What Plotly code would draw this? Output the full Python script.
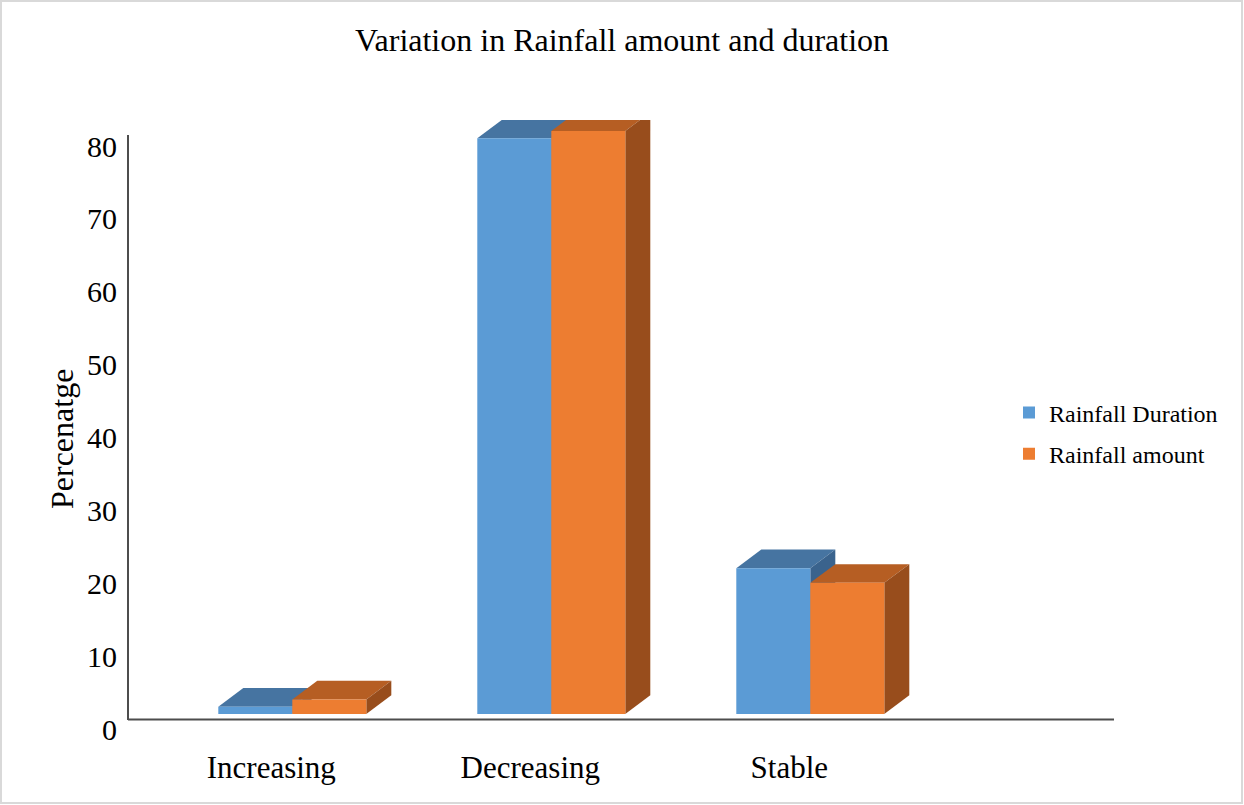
import plotly.graph_objects as go

# Survey responses: share of respondents (%) per perceived trend
categories = ["Increasing", "Decreasing", "Stable"]
rainfall_duration = [1, 79, 20]
rainfall_amount = [2, 80, 18]
y_ticks = [0, 10, 20, 30, 40, 50, 60, 70, 80]

# ---- page / plot-area geometry (pixels) ----
FIG_W, FIG_H = 1244, 805
L, R, T, B = 128, 1114, 120, 742
W, H = R - L, B - T

PX_PER_UNIT = 7.2875          # vertical pixels per percentage point
ZERO_LABEL_PX = 729           # where the "0" label sits
FLOOR_PX = 714                # front baseline of the 3-D boxes
CAT_PX = 259                  # pixels between category centres
FIRST_CAT_PX = 292.3          # centre of the first group
BAR_W = 74 / CAT_PX           # bar width in category units
DEPTH_X = 25 / CAT_PX         # 3-D depth offset, x (category units)
DEPTH_Y = 18.7 / PX_PER_UNIT  # 3-D depth offset, y (value units)
FLOOR = (ZERO_LABEL_PX - FLOOR_PX) / PX_PER_UNIT  # projected floor height
LABEL_SHIFT = -21 / CAT_PX    # category labels sit slightly left of group centre


def px_to_paper_x(p):
    return (p - L) / W


def px_to_paper_y(p):
    return (B - p) / H


y_range = [(ZERO_LABEL_PX - B) / PX_PER_UNIT, (ZERO_LABEL_PX - T) / PX_PER_UNIT]
x_range = [(L - FIRST_CAT_PX) / CAT_PX, (R - FIRST_CAT_PX) / CAT_PX]
x_pos = list(range(len(categories)))

series = [
    dict(name="Rainfall Duration", values=rainfall_duration, offset=-BAR_W,
         front="#5B9BD5", top="#4674A1", side="#3A638D"),
    dict(name="Rainfall amount", values=rainfall_amount, offset=0.0,
         front="#ED7D31", top="#B65E23", side="#984D1C"),
]

fig = go.Figure()
shapes = []


def poly(points, color):
    path = "M " + " L ".join(f"{x},{y}" for x, y in points) + " Z"
    return dict(type="path", path=path, xref="x", yref="y",
                fillcolor=color, line=dict(width=0), layer="below")


for s in series:
    # front faces: bars standing on the projected floor
    fig.add_trace(go.Bar(
        x=x_pos, y=s["values"], base=FLOOR, name=s["name"],
        width=BAR_W, offset=s["offset"],
        marker=dict(color=s["front"], line=dict(width=0)),
        legendgroup=s["name"],
        hoverinfo="skip",
    ))
    # top and right-hand faces of each box, derived from the same values
    for xi, v in zip(x_pos, s["values"]):
        x0 = xi + s["offset"]
        x1 = x0 + BAR_W
        y0, y1 = FLOOR, FLOOR + v
        shapes.append(poly([(x0, y1), (x1, y1), (x1 + DEPTH_X, y1 + DEPTH_Y),
                            (x0 + DEPTH_X, y1 + DEPTH_Y)], s["top"]))
        shapes.append(poly([(x1, y0), (x1 + DEPTH_X, y0 + DEPTH_Y),
                            (x1 + DEPTH_X, y1 + DEPTH_Y), (x1, y1)], s["side"]))

# axis lines
axis_color = "#4D4D4D"
shapes.append(dict(type="line", xref="paper", yref="paper",
                   x0=0, x1=0, y0=px_to_paper_y(720), y1=px_to_paper_y(135),
                   line=dict(color=axis_color, width=2)))
shapes.append(dict(type="line", xref="paper", yref="paper",
                   x0=0, x1=1, y0=px_to_paper_y(719.5), y1=px_to_paper_y(719.5),
                   line=dict(color=axis_color, width=2)))
# thin frame round the chart
shapes.append(dict(type="rect", xref="paper", yref="paper",
                   x0=px_to_paper_x(1), x1=px_to_paper_x(FIG_W - 2),
                   y0=px_to_paper_y(FIG_H - 2), y1=px_to_paper_y(1),
                   line=dict(color="#D9D9D9", width=2), layer="below"))

FONT = "Liberation Serif, Times New Roman, serif"

fig.update_layout(
    width=FIG_W, height=FIG_H,
    margin=dict(l=L, r=FIG_W - R, t=T, b=FIG_H - B, pad=0),
    paper_bgcolor="white", plot_bgcolor="white",
    font=dict(family=FONT, color="black"),
    barmode="overlay",
    title=dict(text="Variation in Rainfall amount and duration",
               x=0.5, xref="container", xanchor="center",
               y=1 - 40 / FIG_H, yref="container", yanchor="middle",
               font=dict(size=32, family=FONT, color="black")),
    xaxis=dict(range=x_range, showgrid=False, zeroline=False, showline=False,
               tickvals=[p + LABEL_SHIFT for p in x_pos], ticktext=categories,
               ticks="", tickfont=dict(size=31), ticklabelstandoff=4),
    yaxis=dict(range=y_range, showgrid=False, zeroline=False,
               showline=False, tickvals=y_ticks, ticks="",
               tickfont=dict(size=30), ticklabelstandoff=10),
    shapes=shapes,
    showlegend=True,
    legend=dict(x=px_to_paper_x(1009), xanchor="left",
                y=px_to_paper_y(433.5), yanchor="middle",
                font=dict(size=24, family=FONT), tracegroupgap=7,
                bgcolor="rgba(0,0,0,0)", borderwidth=0),
    annotations=[dict(text="Percenatge", textangle=-90,
                      xref="paper", yref="paper",
                      x=px_to_paper_x(62), y=px_to_paper_y(439),
                      xanchor="center", yanchor="middle", showarrow=False,
                      font=dict(size=32, family=FONT, color="black"))],
)

fig.write_html("out.html")
